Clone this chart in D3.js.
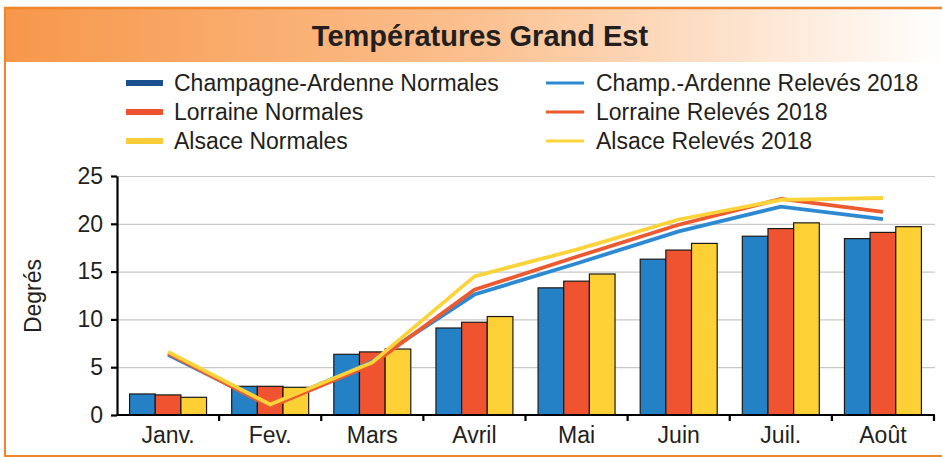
<!DOCTYPE html>
<meta charset="utf-8">
<style>
body { margin: 0; background: #fff; }
svg text { font-family: "Liberation Sans", Arial, sans-serif; fill: #231f20; }
.grid line { stroke: #c8c8c8; stroke-width: 1.2; }
.grid path { display: none; }
.axis path, .axis line { stroke: #000; stroke-width: 2.2; fill: none; }
</style>
<body>
<div id="chart"></div>
<script src="https://d3js.org/d3.v7.min.js"></script>
<script>
// data
var months = ["Janv.", "Fev.", "Mars", "Avril", "Mai", "Juin", "Juil.", "Août"];
var yTicks = [0, 5, 10, 15, 20, 25];

var champNormales = [2.2, 3.0, 6.35, 9.1, 13.3, 16.3, 18.7, 18.45];
var lorraineNormales = [2.1, 3.0, 6.6, 9.7, 14.0, 17.25, 19.5, 19.1];
var alsaceNormales = [1.85, 2.9, 6.9, 10.3, 14.75, 17.95, 20.1, 19.7];

var champReleves = [6.3, 1.0, 5.6, 12.6, 15.85, 19.2, 21.8, 20.5];
var lorraineReleves = [6.45, 0.85, 5.3, 13.1, 16.55, 19.9, 22.6, 21.25];
var alsaceReleves = [6.6, 1.1, 5.5, 14.5, 17.3, 20.45, 22.5, 22.7];

var barSeries = [
  {name: "Champagne-Ardenne Normales", values: champNormales, color: "#2481c5", swatch: "#1b4f8e"},
  {name: "Lorraine Normales", values: lorraineNormales, color: "#ef5330", swatch: "#ea5230"},
  {name: "Alsace Normales", values: alsaceNormales, color: "#fdd036", swatch: "#f9cc3a"}
];
var lineSeries = [
  {name: "Champ.-Ardenne Relevés 2018", values: champReleves, color: "#2d8ad2"},
  {name: "Lorraine Relevés 2018", values: lorraineReleves, color: "#ee5a30"},
  {name: "Alsace Relevés 2018", values: alsaceReleves, color: "#fdd33a"}
];

var W = 942, H = 457;
var svg = d3.select("#chart").append("svg").attr("width", W).attr("height", H);

// frame + title band
var defs = svg.append("defs");
var grad = defs.append("linearGradient").attr("id", "band").attr("x1", "0").attr("x2", "1");
grad.append("stop").attr("offset", "0").attr("stop-color", "#f7974a");
grad.append("stop").attr("offset", "0.5").attr("stop-color", "#fbc08f");
grad.append("stop").attr("offset", "1").attr("stop-color", "#ffffff");

svg.append("rect").attr("x", 5).attr("y", 8).attr("width", W).attr("height", 54).attr("fill", "url(#band)");
svg.append("line").attr("x1", 4).attr("x2", W).attr("y1", 8).attr("y2", 8).attr("stroke", "#f0852a").attr("stroke-width", 2.5);
svg.append("line").attr("x1", 5).attr("x2", 5).attr("y1", 7).attr("y2", 456).attr("stroke", "#f0852a").attr("stroke-width", 2);
svg.append("line").attr("x1", 4).attr("x2", W).attr("y1", 456).attr("y2", 456).attr("stroke", "#f0852a").attr("stroke-width", 2);

svg.append("text").attr("x", 480).attr("y", 46).attr("text-anchor", "middle")
  .style("font-weight", "bold").style("font-size", "29px")
  .text("Températures Grand Est");

// legend
var legend = svg.append("g");
barSeries.forEach(function(s, i) {
  var ly = 83 + i * 29;
  legend.append("rect").attr("x", 126).attr("y", ly - 3).attr("width", 37).attr("height", 6).attr("fill", s.swatch);
  legend.append("text").attr("x", 174).attr("y", ly + 8).style("font-size", "23px").text(s.name);
});
lineSeries.forEach(function(s, i) {
  var ly = 83 + i * 29;
  legend.append("line").attr("x1", 546).attr("x2", 584).attr("y1", ly).attr("y2", ly)
    .attr("stroke", s.color).attr("stroke-width", 3);
  legend.append("text").attr("x", 596).attr("y", ly + 8).style("font-size", "23px").text(s.name);
});

// plot area
var plotLeft = 117, plotRight = 934, plotTop = 176, plotBottom = 415;
var x = d3.scaleBand().domain(months).range([plotLeft, plotRight]);
var xs = d3.scaleBand().domain(d3.range(barSeries.length)).range([0, x.bandwidth()]).paddingOuter(0.49).paddingInner(0);
var y = d3.scaleLinear().domain([0, 25]).range([plotBottom, plotTop]);

svg.append("g").attr("class", "grid")
  .attr("transform", "translate(" + plotLeft + ",0)")
  .call(d3.axisRight(y).tickValues(yTicks.slice(1)).tickSize(plotRight - plotLeft + 1).tickFormat(""));

barSeries.forEach(function(s, si) {
  svg.append("g").selectAll("rect").data(s.values).enter().append("rect")
    .attr("x", function(d, i) { return x(months[i]) + xs(si); })
    .attr("y", function(d) { return y(d); })
    .attr("width", xs.bandwidth())
    .attr("height", function(d) { return y(0) - y(d); })
    .attr("fill", s.color)
    .attr("stroke", "#1a1a1a").attr("stroke-width", 1.2);
});

var line = d3.line()
  .x(function(d, i) { return x(months[i]) + x.bandwidth() / 2; })
  .y(function(d) { return y(d); });

lineSeries.forEach(function(s) {
  svg.append("path").datum(s.values).attr("d", line)
    .attr("fill", "none").attr("stroke", s.color).attr("stroke-width", 3.8)
    .attr("stroke-linejoin", "miter");
});

// axes
var yAxis = svg.append("g").attr("class", "axis").attr("transform", "translate(" + plotLeft + ",0)")
  .call(d3.axisLeft(y).tickValues(yTicks).tickSize(6).tickPadding(8).tickSizeOuter(0));
yAxis.selectAll("text").style("font-size", "23px").attr("fill", "#231f20");

var xAxis = svg.append("g").attr("class", "axis").attr("transform", "translate(0," + plotBottom + ")")
  .call(d3.axisBottom(x).tickSize(0).tickPadding(12).tickSizeOuter(0));
xAxis.selectAll("text").style("font-size", "23px").attr("fill", "#231f20");
xAxis.select(".domain").attr("d", "M" + plotLeft + ",0H" + (plotRight + 1));
xAxis.append("g").selectAll("line").data(months.slice(1).concat(["end"])).enter().append("line")
  .attr("x1", function(d) { return d === "end" ? plotRight : x(d); })
  .attr("x2", function(d) { return d === "end" ? plotRight : x(d); })
  .attr("y1", 0).attr("y2", 6);

svg.append("text").attr("transform", "translate(41,296) rotate(-90)")
  .attr("text-anchor", "middle").style("font-size", "23px").text("Degrés");
</script>
</body>
